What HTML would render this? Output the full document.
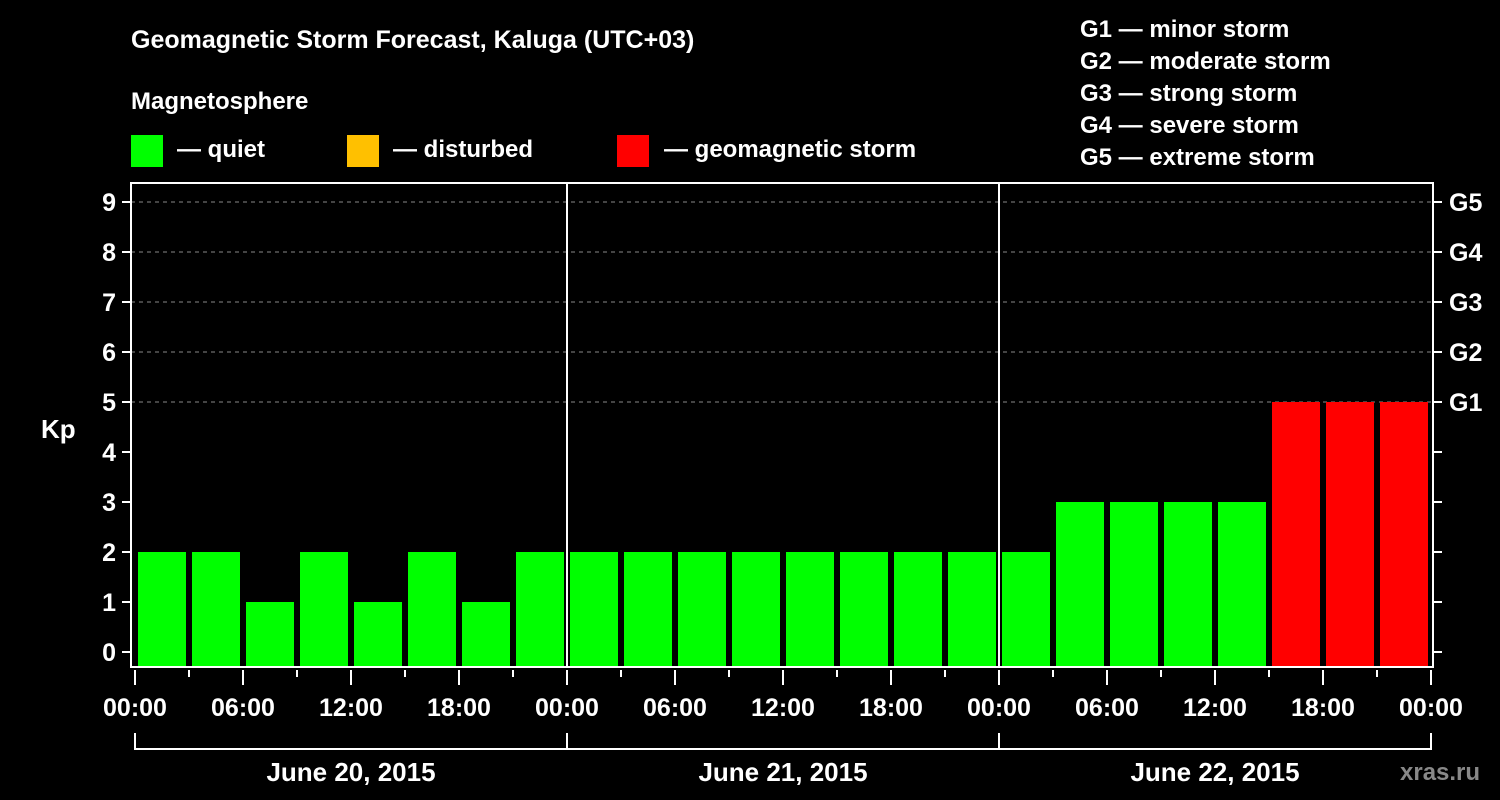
<!DOCTYPE html>
<html><head><meta charset="utf-8"><style>
body{margin:0;background:#000;width:1500px;height:800px;overflow:hidden}
svg{display:block;font-family:"Liberation Sans",Arial,sans-serif;font-weight:bold}
</style></head><body>
<svg id="c" width="1500" height="800" xmlns="http://www.w3.org/2000/svg">
<rect width="1500" height="800" fill="#000"/>
<text x="131" y="48" fill="#fff" font-size="25">Geomagnetic Storm Forecast, Kaluga (UTC+03)</text>
<text x="131" y="109" fill="#fff" font-size="24">Magnetosphere</text>
<g><rect x="131" y="135" width="32" height="32" fill="#00ff00"/><text x="177" y="157" fill="#fff" font-size="24">— quiet</text></g>
<g><rect x="347" y="135" width="32" height="32" fill="#ffc000"/><text x="393" y="157" fill="#fff" font-size="24">— disturbed</text></g>
<g><rect x="617" y="135" width="32" height="32" fill="#ff0000"/><text x="664" y="157" fill="#fff" font-size="24">— geomagnetic storm</text></g>
<g fill="#fff" font-size="24">
<text x="1080" y="37">G1 — minor storm</text>
<text x="1080" y="69">G2 — moderate storm</text>
<text x="1080" y="101">G3 — strong storm</text>
<text x="1080" y="133">G4 — severe storm</text>
<text x="1080" y="165">G5 — extreme storm</text>
</g>
<text x="41" y="438" fill="#fff" font-size="26">Kp</text>
<text x="1400" y="780" fill="#888" font-size="24">xras.ru</text>
<g id="grid"></g><g id="bars"></g><g id="axes"></g>
</svg>
<script>
const kpValues=[2,2,1,2,1,2,1,2, 2,2,2,2,2,2,2,2, 2,3,3,3,3,5,5,5];
const dayLabels=["June 20, 2015","June 21, 2015","June 22, 2015"];
const hourLabels=["00:00","06:00","12:00","18:00"];
const gLabels=["G1","G2","G3","G4","G5"];
const yTicks=[0,1,2,3,4,5,6,7,8,9];
const NS="http://www.w3.org/2000/svg";
const X0=135,PXH=18,Y0=652,PXK=50,TOP=183,BOT=667,RIGHT=1433,LEFT=131;
const x=h=>X0+h*PXH, y=k=>Y0-k*PXK;
function mk(tag,attrs,parent,txt){const e=document.createElementNS(NS,tag);for(const k in attrs)e.setAttribute(k,attrs[k]);if(txt!==undefined)e.textContent=txt;document.getElementById(parent).appendChild(e);return e;}
const col=k=>k>=5?"#ff0000":(k>=4?"#ffc000":"#00ff00");
for(let k=5;k<=9;k++){const l=mk("line",{x1:LEFT,x2:RIGHT,y1:y(k),y2:y(k),stroke:"#888","stroke-dasharray":"4,4","stroke-width":1},"grid");

}
kpValues.forEach((v,i)=>{const r=mk("rect",{x:x(i*3)+3,y:y(v),width:3*PXH-6,height:BOT-y(v),fill:col(v)},"bars");

});
const days=dayLabels.length;
const frame=mk("rect",{x:LEFT,y:TOP,width:RIGHT-LEFT,height:BOT-TOP,fill:"none",stroke:"#fff","stroke-width":2},"axes");


for(let d=1;d<days;d++){const l=mk("line",{x1:x(d*24),x2:x(d*24),y1:TOP,y2:BOT,stroke:"#fff","stroke-width":2},"axes");

}
yTicks.forEach(k=>{mk("line",{x1:122,x2:LEFT,y1:y(k),y2:y(k),stroke:"#fff","stroke-width":2},"axes");
const t=mk("text",{x:116,y:y(k)+9,fill:"#fff","font-size":25,"text-anchor":"end"},"axes",k);


mk("line",{x1:RIGHT,x2:1442,y1:y(k),y2:y(k),stroke:"#fff","stroke-width":2},"axes");});
gLabels.forEach((g,i)=>{const t=mk("text",{x:1449,y:y(5+i)+9,fill:"#fff","font-size":25},"axes",g);

});
for(let h=0;h<=days*24;h+=3){const long=h%6===0;mk("line",{x1:x(h),x2:x(h),y1:670,y2:long?685:677,stroke:"#fff","stroke-width":2},"axes");
if(long){const t=mk("text",{x:x(h),y:716,fill:"#fff","font-size":25,"text-anchor":"middle"},"axes",hourLabels[(h%24)/6]);

}}
mk("polyline",{points:`${x(0)},733 ${x(0)},749 ${x(days*24)},749 ${x(days*24)},733`,fill:"none",stroke:"#fff","stroke-width":2},"axes");
for(let d=1;d<days;d++)mk("line",{x1:x(d*24),x2:x(d*24),y1:733,y2:749,stroke:"#fff","stroke-width":2},"axes");
dayLabels.forEach((s,d)=>{const t=mk("text",{x:x(d*24+12),y:781,fill:"#fff","font-size":26,"text-anchor":"middle"},"axes",s);

});
</script>
</body></html>
